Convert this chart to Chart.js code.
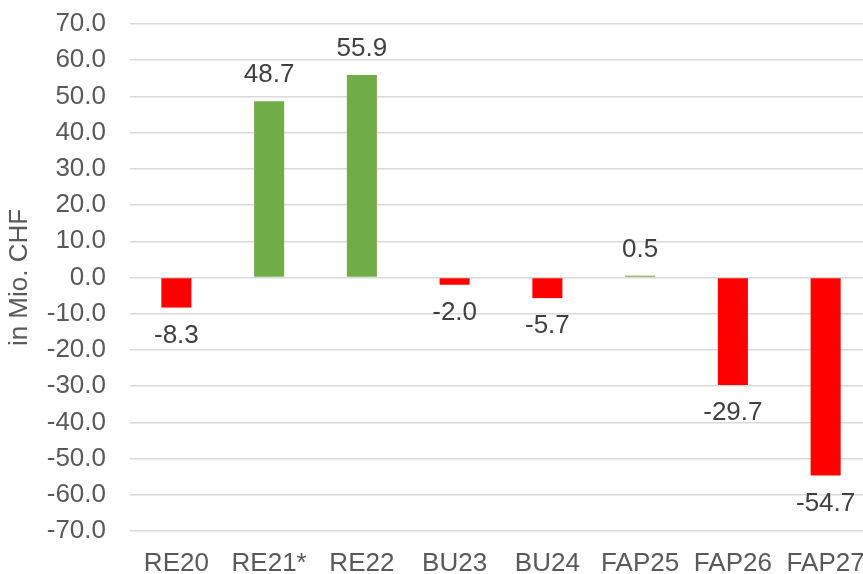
<!DOCTYPE html>
<html>
<head>
<meta charset="utf-8">
<script src="https://cdn.jsdelivr.net/npm/chart.js@4/dist/chart.umd.min.js"></script>
<style>
  html, body { margin: 0; padding: 0; background: #fff; overflow: hidden; width: 863px; height: 574px; }
  canvas { display: block; }
</style>
</head>
<body>
<canvas id="c" width="872" height="574"></canvas>
<script>
const categories = ["RE20", "RE21*", "RE22", "BU23", "BU24", "FAP25", "FAP26", "FAP27"];
const values = [-8.3, 48.7, 55.9, -2.0, -5.7, 0.5, -29.7, -54.7];
const yTicks = [70, 60, 50, 40, 30, 20, 10, 0, -10, -20, -30, -40, -50, -60, -70];
const axisTitle = "in Mio. CHF";

const FONT = "'Liberation Sans', Arial, sans-serif";
const barColors = values.map(v => v >= 0 ? "#70AD47" : "#FF0000");

const dataLabels = {
  id: "dataLabels",
  afterDatasetsDraw(chart) {
    const ctx = chart.ctx;
    const meta = chart.getDatasetMeta(0);
    ctx.save();
    ctx.font = "26px " + FONT;
    ctx.fillStyle = "#404040";
    ctx.textAlign = "center";
    ctx.textBaseline = "middle";
    meta.data.forEach((bar, i) => {
      const v = values[i];
      const y = v >= 0 ? bar.y - 26 : bar.y + 28;
      ctx.fillText(v.toFixed(1), bar.x, y);
    });
    ctx.restore();
  }
};

new Chart(document.getElementById("c"), {
  type: "bar",
  data: {
    labels: categories,
    datasets: [{
      data: values,
      backgroundColor: barColors,
      borderWidth: 0,
      categoryPercentage: 1,
      barPercentage: 0.324
    }]
  },
  options: {
    responsive: false,
    animation: false,
    layout: { padding: { top: 0, right: 0, bottom: 0, left: 0 } },
    plugins: { legend: { display: false }, tooltip: { enabled: false } },
    scales: {
      x: {
        grid: { display: false, drawTicks: false },
        border: { display: false },
        ticks: { color: "#595959", font: { family: FONT, size: 26 }, padding: 17, maxRotation: 0, autoSkip: false },
        afterFit(scale) { scale.height = 43; scale.paddingLeft = 0; scale.paddingRight = 0; }
      },
      y: {
        min: -70, max: 70,
        afterBuildTicks(scale) { scale.ticks = yTicks.map(v => ({ value: v })); },
        grid: { color: "#D9D9D9", lineWidth: 1.5, drawTicks: false },
        border: { display: false },
        ticks: {
          color: "#595959",
          font: { family: FONT, size: 26 },
          padding: 24,
          callback: v => Number(v).toFixed(1)
        },
        title: { display: true, text: axisTitle, color: "#595959", font: { family: FONT, size: 26 }, padding: { top: 4, bottom: 0 } },
        afterFit(scale) { scale.width = 130; scale.paddingTop = 24; scale.paddingBottom = 0; }
      }
    }
  },
  plugins: [dataLabels]
});
</script>
</body>
</html>
